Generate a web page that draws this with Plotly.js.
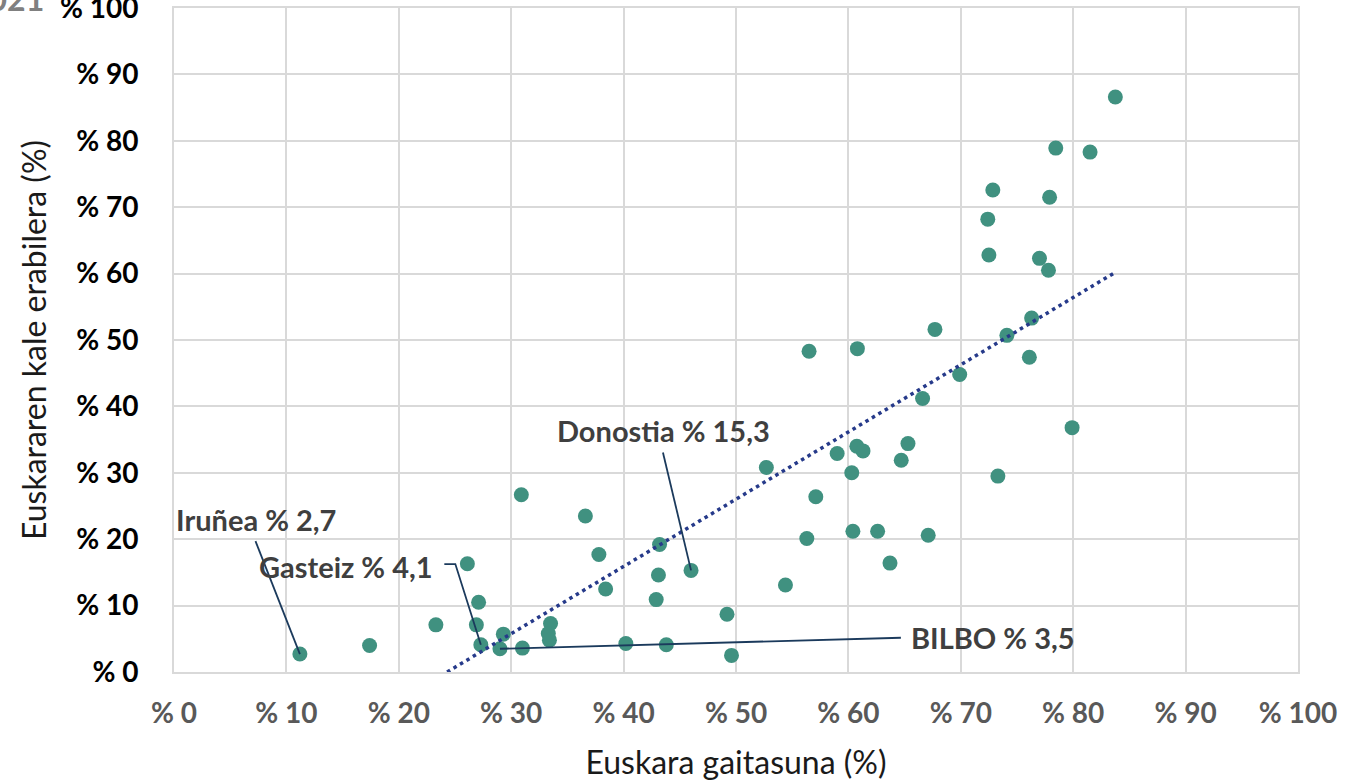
<!DOCTYPE html>
<html>
<head>
<meta charset="utf-8">
<script src="https://cdn.plot.ly/plotly-3.0.1.min.js"></script>
<style>html,body{margin:0;padding:0;background:#fff;}#chart{width:1348px;height:781px;}</style>
</head>
<body>
<div id="chart"></div>
<script>
// Euskara gaitasuna (%) — x values
const capability = [11.2, 17.4, 23.3, 26.1, 27.1, 26.9, 27.3, 29.0, 29.3, 31.0,
  30.9, 33.5, 33.3, 33.4, 36.6, 37.8, 38.4, 40.2, 43.2, 43.1,
  42.9, 43.8, 46.0, 49.2, 49.6, 52.7, 54.4, 56.5, 56.3, 57.1,
  59.0, 60.3, 60.4, 60.8, 60.75, 61.3, 62.6, 63.7, 64.7, 65.3,
  66.6, 67.1, 67.7, 69.9, 72.4, 72.5, 72.85, 73.3, 74.1, 76.1,
  76.3, 77.0, 77.8, 77.9, 78.45, 79.9, 81.5, 83.75];
// Euskararen kale erabilera (%) — y values
const streetUse = [2.7, 4.0, 7.1, 16.3, 10.5, 7.1, 4.1, 3.5, 5.7, 3.6,
  26.7, 7.3, 5.8, 4.8, 23.5, 17.7, 12.5, 4.3, 19.2, 14.6,
  10.9, 4.1, 15.3, 8.7, 2.5, 30.8, 13.1, 48.3, 20.1, 26.4,
  32.9, 30.0, 21.2, 48.7, 34.0, 33.3, 21.2, 16.4, 31.9, 34.4,
  41.2, 20.6, 51.6, 44.8, 68.2, 62.8, 72.6, 29.5, 50.7, 47.4,
  53.3, 62.3, 60.5, 71.5, 78.9, 36.8, 78.3, 86.6];

// Linear trend line (clipped at y = 0)
const trendX = [24.3, 83.75];
const trendY = [0, 60.2];

// Axis ticks
const tickValues = [0, 10, 20, 30, 40, 50, 60, 70, 80, 90, 100];
const tickLabels = ['% 0', '% 10', '% 20', '% 30', '% 40', '% 50', '% 60', '% 70', '% 80', '% 90', '% 100'];

// Labelled cities: index into the arrays above + label text
const cityIndex = [0, 6, 22, 7];
const cityLabels = ['Iruñea % 2,7', 'Gasteiz % 4,1', 'Donostia % 15,3', 'BILBO % 3,5'];

// Label placement (layout config, not data)
const labelPlacement = [
  {x: 0.02, y: 23.0, xanchor: 'left', tail: [[7.25, 19.7]]},
  {x: 23.2, y: 15.95, xanchor: 'right', tail: [[24.05, 16.25], [25.03, 16.25]]},
  {x: 43.56, y: 36.3, xanchor: 'center', tail: [[43.5, 33.06]]},
  {x: 65.4, y: 5.16, xanchor: 'left', tail: [[64.67, 5.16]]}
];

const labelFont = {family: 'Lato, "Open Sans", sans-serif', size: 29, color: '#3f3f3f', weight: 'bold'};

const annotations = cityLabels.map((t, i) => ({
  x: labelPlacement[i].x, y: labelPlacement[i].y, xref: 'x', yref: 'y',
  text: t, showarrow: false, xanchor: labelPlacement[i].xanchor, yanchor: 'middle',
  font: labelFont
}));
annotations.push({
  xref: 'paper', yref: 'paper', x: -0.114, y: 0.982, xanchor: 'right', yanchor: 'bottom',
  text: '2021', showarrow: false,
  font: {family: 'Lato, sans-serif', size: 32, color: '#808080', weight: 'bold'}
});

const shapes = cityLabels.map((t, i) => {
  const idx = cityIndex[i];
  const pts = labelPlacement[i].tail.concat([[capability[idx], streetUse[idx]]]);
  const path = pts.map((p, k) => (k === 0 ? 'M ' : 'L ') + p[0] + ',' + p[1]).join(' ');
  return {type: 'path', xref: 'x', yref: 'y', path: path, layer: 'above',
          line: {color: '#1B3A5C', width: 1.8}};
});

const traces = [
  {
    x: capability, y: streetUse, type: 'scatter', mode: 'markers',
    marker: {color: '#409180', size: 15, line: {width: 0}},
    hoverinfo: 'x+y', showlegend: false
  },
  {
    x: trendX, y: trendY, type: 'scatter', mode: 'lines',
    line: {color: '#263A8A', width: 3.5, dash: '3.5px,4px'},
    hoverinfo: 'skip', showlegend: false
  }
];

const axisCommon = {
  range: [0, 100], tickmode: 'array', tickvals: tickValues, ticktext: tickLabels,
  showgrid: true, gridcolor: '#D9D9D9', gridwidth: 2,
  zeroline: false, showline: true, linecolor: '#D9D9D9', linewidth: 2, mirror: true,
  ticks: '', fixedrange: true, ticklabeloverflow: 'allow'
};

const layout = {
  width: 1348, height: 781,
  margin: {l: 174, r: 50, t: 8, b: 109, pad: 0},
  paper_bgcolor: '#ffffff', plot_bgcolor: '#ffffff',
  showlegend: false,
  xaxis: Object.assign({}, axisCommon, {
    tickfont: {family: 'Lato, "Open Sans", sans-serif', size: 28, color: '#595959', weight: 'bold'},
    ticklabelstandoff: 15,
    title: {text: 'Euskara gaitasuna (%)', standoff: 25,
            font: {family: 'Lato, "Open Sans", sans-serif', size: 32, color: '#1a1a1a'}}
  }),
  yaxis: Object.assign({}, axisCommon, {
    tickfont: {family: 'Lato, "Open Sans", sans-serif', size: 28, color: '#000000', weight: 'bold'},
    ticklabelstandoff: 28,
    title: {text: 'Euskararen kale erabilera (%)', standoff: 4,
            font: {family: 'Lato, "Open Sans", sans-serif', size: 32, color: '#1a1a1a'}}
  }),
  annotations: annotations,
  shapes: shapes
};

Plotly.newPlot('chart', traces, layout, {displayModeBar: false, responsive: false});
</script>
</body>
</html>
